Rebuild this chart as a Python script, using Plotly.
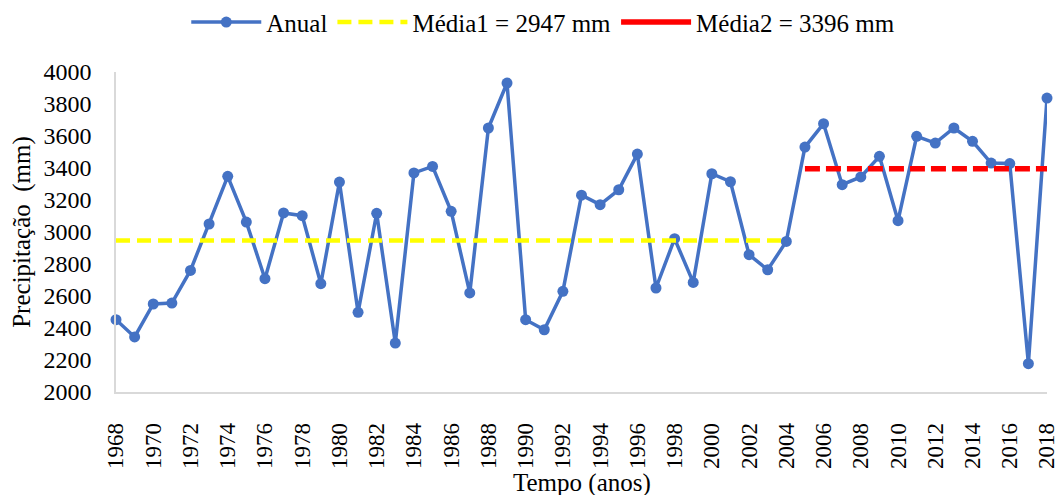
import plotly.graph_objects as go

years = list(range(1968, 2019))
anual = [2452, 2344, 2550, 2556, 2760, 3050, 3348, 3062, 2708, 3119,
         3102, 2677, 3312, 2498, 3117, 2306, 3369, 3410, 3129, 2619,
         3650, 3931, 2452, 2389, 2629, 3230, 3171, 3264, 3487, 2650,
         2958, 2685, 3364, 3314, 2858, 2764, 2941, 3531, 3677, 3296,
         3344, 3473, 3071, 3598, 3556, 3650, 3567, 3431, 3428, 2177,
         3837]

media1_value = 2947
media1_years = [1968, 2004]
media2_value = 3396
media2_years = [2005, 2018]

y_ticks = list(range(2000, 4001, 200))
x_ticks = list(range(1968, 2019, 2))

FONT = "'Liberation Serif', 'Times New Roman', Times, serif"
BLUE = "#4472C4"

fig = go.Figure()
fig.add_trace(go.Scatter(
    x=years, y=anual, mode="lines+markers", name="Anual",
    line=dict(color=BLUE, width=3.5),
    marker=dict(color=BLUE, size=11),
    cliponaxis=False,
))
fig.add_trace(go.Scatter(
    x=media1_years, y=[media1_value] * len(media1_years), mode="lines",
    name=f"Média1 = {media1_value} mm",
    line=dict(color="#FFFF00", width=4.5, dash="14px,7px"),
    cliponaxis=False,
))
fig.add_trace(go.Scatter(
    x=media2_years, y=[media2_value] * len(media2_years), mode="lines",
    name=f"Média2 = {media2_value} mm", showlegend=False,
    legendgroup="m2",
    line=dict(color="#FF0000", width=5.5, dash="15px,6px"),
    cliponaxis=False,
))
# legend entry (solid red, as in the reference legend)
fig.add_trace(go.Scatter(
    x=[None], y=[None], mode="lines", legendgroup="m2",
    name=f"Média2 = {media2_value} mm",
    line=dict(color="#FF0000", width=5.5),
))

fig.update_layout(
    width=1059, height=495,
    margin=dict(l=116, r=12, t=72, b=103),
    paper_bgcolor="white", plot_bgcolor="white",
    font=dict(family=FONT, size=24, color="#000000"),
    showlegend=True,
    legend=dict(
        orientation="h", xref="container", yref="container",
        x=0.513, xanchor="center", y=0.955, yanchor="middle",
        font=dict(family=FONT, size=25, color="#000000"),
        bgcolor="rgba(0,0,0,0)", itemwidth=70,
    ),
    xaxis=dict(
        range=[1968, 2018], tickmode="array", tickvals=x_ticks,
        ticktext=[str(v) for v in x_ticks], tickangle=-90,
        ticklabeloverflow="allow",
        showgrid=False, zeroline=False, showline=True,
        linecolor="#D9D9D9", linewidth=1.5,
        ticks="outside", ticklen=20, tickcolor="rgba(0,0,0,0)",
        ticklabelstandoff=0,
        tickfont=dict(family=FONT, size=23),
        automargin=False,
    ),
    yaxis=dict(
        range=[2000, 4000], tickmode="array", tickvals=y_ticks,
        showgrid=False, zeroline=False, showline=True,
        linecolor="#D9D9D9", linewidth=1.5, ticks="", ticklabelstandoff=18,
        tickfont=dict(family=FONT, size=24),
        title=dict(text="Precipitação  (mm)", font=dict(family=FONT, size=25), standoff=6),
        automargin=False,
    ),
    annotations=[dict(
        text="Tempo (anos)", xref="paper", yref="paper",
        x=0.5, y=-(483 - 392) / 320, xanchor="center", yanchor="middle",
        showarrow=False, font=dict(family=FONT, size=25),
    )],
)

fig.write_html("out.html")
